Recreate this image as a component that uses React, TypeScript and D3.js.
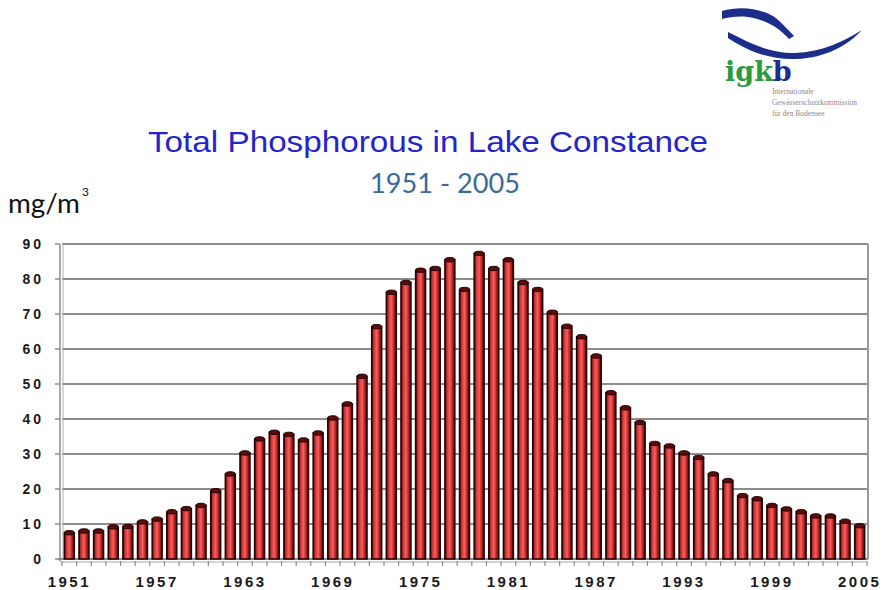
import React from 'react';
import * as d3 from 'd3';

const YEARS = d3.range(1951, 2006);
const PHOSPHORUS = [
  7.5, 8, 8, 9.2, 9.3, 10.6, 11.4, 13.5, 14.4, 15.3,
  19.5, 24.3, 30.3, 34.3, 36.2, 35.6, 34, 36, 40.3, 44.3,
  52.2, 66.4, 76.2, 79, 82.5, 83, 85.5, 77, 87.3, 83,
  85.5, 79, 77, 70.5, 66.5, 63.5, 58, 47.5, 43.2, 39,
  33, 32.3, 30.3, 29, 24.3, 22.4, 18.1, 17.2, 15.3, 14.3,
  13.5, 12.3, 12.3, 10.8, 9.5,
];
const Y_TICKS = [0, 10, 20, 30, 40, 50, 60, 70, 80, 90];
const X_LABELS = [1951, 1957, 1963, 1969, 1975, 1981, 1987, 1993, 1999, 2005];
const LOGO_LINES = ['Internationale', 'Gewässerschutzkommission', 'für den Bodensee'];

const App = () => {
  const x = d3.scaleBand<number>().domain(YEARS).range([62, 867]).paddingInner(0.32).paddingOuter(0.16);
  const y = d3.scaleLinear().domain([0, 90]).range([559, 244]);
  const bw = x.bandwidth();

  return (
    <svg width={885} height={590} style={{ position: 'absolute', left: 0, top: 0, background: '#fff' }}>
      <defs>
        <linearGradient id="cyl" x1="0" x2="1" y1="0" y2="0">
          <stop offset="0%" stopColor="#4a0606" />
          <stop offset="22%" stopColor="#d03434" />
          <stop offset="50%" stopColor="#f56060" />
          <stop offset="78%" stopColor="#b81e1e" />
          <stop offset="100%" stopColor="#300303" />
        </linearGradient>
      </defs>

      {/* logo */}
      <g fill="#1c2d8c">
        <path d="M722,11 C742,5 764,9 777,19 C784,25 789,31 794,36 L789,39 C780,29 768,20 748,17 C738,16 730,17 722,19 Z" />
        <path d="M728,32 C750,43 768,53 795,53 C822,52 845,41 862,30 C848,45 826,58 796,59 C766,60 745,49 728,38 Z" />
      </g>
      <text x={725} y={81} fontFamily="'DejaVu Serif', serif" fontWeight="bold" fontSize={27} fill="#2f9a3c">
        igk<tspan fill="#1c2d8c">b</tspan>
      </text>
      {LOGO_LINES.map((t, i) => (
        <text key={t} x={772} y={94 + i * 11} fontFamily="'Liberation Serif', serif" fontSize={7.5} fill="#8a8a8a">{t}</text>
      ))}

      {/* titles */}
      <text x={148} y={152} textLength={560} lengthAdjust="spacingAndGlyphs" fontFamily="'Liberation Sans', Arial, sans-serif" fontSize={29} fill="#2424c8">
        Total Phosphorous in Lake Constance
      </text>
      <text x={370} y={193} textLength={150} lengthAdjust="spacingAndGlyphs" fontFamily="Lato, 'Open Sans', sans-serif" fontSize={27} fill="#3a6a9c">
        1951 - 2005
      </text>
      <text x={8} y={213} textLength={72} lengthAdjust="spacingAndGlyphs" fontFamily="Lato, 'Open Sans', sans-serif" fontSize={26} fill="#111">
        mg/m
      </text>
      <text x={82} y={196} fontFamily="Lato, 'Open Sans', sans-serif" fontSize={12} fill="#111">3</text>

      {/* grid */}
      {Y_TICKS.filter(t => t > 0).map(t => (
        <line key={t} x1={62} x2={868} y1={y(t)} y2={y(t)} stroke="#8c8c8c" strokeWidth={2} />
      ))}
      <line x1={868} x2={868} y1={y(90)} y2={y(0)} stroke="#9a9a9a" strokeWidth={2} />
      <line x1={60} x2={60} y1={y(90)} y2={y(0) + 2} stroke="#8c8c8c" strokeWidth={1.5} />
      <line x1={63} x2={63} y1={y(90)} y2={y(0)} stroke="#b0b0b0" strokeWidth={1} />
      <line x1={58} x2={868} y1={y(0)} y2={y(0)} stroke="#8c8c8c" strokeWidth={2} />
      <line x1={60} x2={866} y1={y(0) + 3} y2={y(0) + 3} stroke="#a8a8a8" strokeWidth={1} />

      {/* y axis */}
      {Y_TICKS.map(t => (
        <g key={t}>
          <line x1={55} x2={60} y1={y(t)} y2={y(t)} stroke="#8c8c8c" strokeWidth={1.5} />
          <text x={44} y={y(t) + 5} textAnchor="end" fontFamily="'Liberation Sans', Arial, sans-serif" fontWeight="bold" fontSize={14} letterSpacing={3} fill="#1a1a1a">
            {t}
          </text>
        </g>
      ))}

      {/* bars */}
      {YEARS.map((yr, i) => {
        const x0 = x(yr) as number;
        const top = y(PHOSPHORUS[i]);
        return (
          <g key={yr}>
            <rect x={x0} y={top} width={bw} height={y(0) - top} fill="url(#cyl)" stroke="#200000" strokeWidth={1.5} />
            <ellipse cx={x0 + bw / 2} cy={top} rx={bw / 2} ry={2.2} fill="#5a0c0c" stroke="#200000" strokeWidth={1} />
          </g>
        );
      })}

      {/* x axis ticks */}
      {YEARS.concat([2006]).map(yr => {
        const xt = yr === 2006 ? 867 : (x(yr) as number) - (x.step() - bw) / 2;
        return <line key={yr} x1={xt} x2={xt} y1={y(0) + 2} y2={y(0) + 7} stroke="#8c8c8c" strokeWidth={1.2} />;
      })}
      {X_LABELS.map(yr => (
        <text key={yr} x={(x(yr) as number) + bw / 2} y={587} textAnchor="middle" fontFamily="'Liberation Sans', Arial, sans-serif" fontWeight="bold" fontSize={15} letterSpacing={2.5} fill="#1a1a1a">
          {yr}
        </text>
      ))}
    </svg>
  );
};

export default App;
